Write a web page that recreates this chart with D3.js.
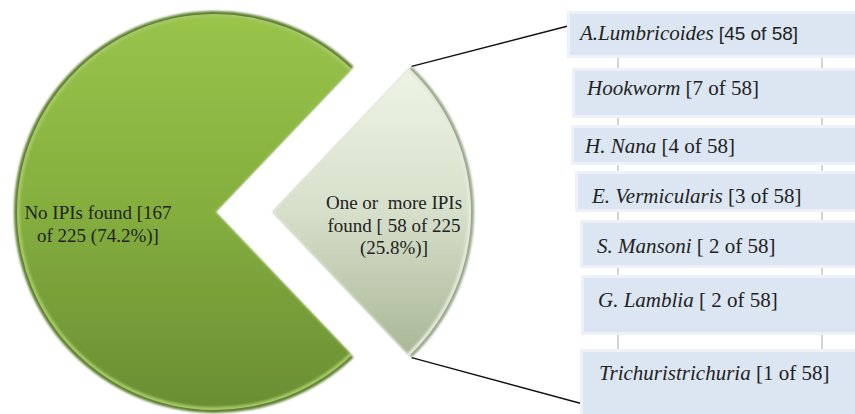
<!DOCTYPE html>
<html>
<head>
<meta charset="utf-8">
<script src="https://cdn.jsdelivr.net/npm/d3@7"></script>
<style>
  html, body { margin: 0; padding: 0; background: #fff; }
  svg { display: block; }
  .serif { font-family: "Liberation Serif", "DejaVu Serif", serif; white-space: pre; }
  .sans { font-family: "Liberation Sans", Arial, sans-serif; }
</style>
</head>
<body>
<svg id="chart" width="855" height="414"></svg>
<script>
// ---- data ----
const categories = ["One or more IPIs found", "No IPIs found"];
const values = [58, 167];
const total = 225;
const pieLabels = [
  ["One or  more IPIs", "found [ 58 of 225", "(25.8%)]"],
  ["No IPIs found [167", "of 225 (74.2%)]"]
];
const parasites = ["A.Lumbricoides", "Hookworm", "H. Nana", "E. Vermicularis", "S. Mansoni", "G. Lamblia", "Trichuristrichuria"];
const parasiteCounts = [45, 7, 4, 3, 2, 2, 1];
const countPrefix = ["", "", "", "", " ", " ", ""];
const positiveTotal = 58;

// ---- layout ----
const W = 855, H = 414;
const cx = 215, cy = 212, R = 201, explode = 58;
const rows = [
  { x: 570, y0: 14,  y1: 55,  tx: 10, ty: 26 },
  { x: 575, y0: 71,  y1: 115, tx: 12, ty: 24 },
  { x: 574, y0: 128, y1: 162, tx: 11, ty: 25 },
  { x: 578, y0: 174, y1: 209, tx: 14, ty: 29 },
  { x: 583, y0: 223, y1: 265, tx: 14, ty: 30 },
  { x: 584, y0: 278, y1: 332, tx: 14, ty: 29 },
  { x: 583, y0: 352, y1: 420, tx: 16, ty: 28 }
];
const connX = [618, 822];

const svg = d3.select("#chart");
const defs = svg.append("defs");

const g1 = defs.append("linearGradient").attr("id", "gMain")
  .attr("x1", 0).attr("y1", 0).attr("x2", 0).attr("y2", 1);
g1.append("stop").attr("offset", "0%").attr("stop-color", "#98c44a");
g1.append("stop").attr("offset", "50%").attr("stop-color", "#84ae3e");
g1.append("stop").attr("offset", "100%").attr("stop-color", "#6a8e33");

const g2 = defs.append("linearGradient").attr("id", "gSlice")
  .attr("x1", 0).attr("y1", 0).attr("x2", 0).attr("y2", 1);
g2.append("stop").attr("offset", "0%").attr("stop-color", "#eef4e4");
g2.append("stop").attr("offset", "50%").attr("stop-color", "#d6dfca");
g2.append("stop").attr("offset", "100%").attr("stop-color", "#aab797");

const blur = defs.append("filter").attr("id", "soft").attr("x", "-10%").attr("y", "-10%").attr("width", "120%").attr("height", "120%");
blur.append("feGaussianBlur").attr("stdDeviation", 1.2);

const span = values[0] / total * 2 * Math.PI;
const pie = d3.pie().sort(null).value(d => d)
  .startAngle(Math.PI / 2 - span / 2)
  .endAngle(Math.PI / 2 - span / 2 + 2 * Math.PI);
const arcs = pie(values);
const arc = d3.arc().innerRadius(0).outerRadius(R);
const arcIn = d3.arc().innerRadius(0).outerRadius(R - 3);
const inner = d3.arc().innerRadius(0).outerRadius(R - 6);

const fills = ["url(#gSlice)", "url(#gMain)"];
const edge = ["#9aa88a", "#5f8030"];
const bevel = ["#f6f9f0", "#b5d873"];

arcs.forEach((a, i) => {
  const mid = (a.startAngle + a.endAngle) / 2;
  const off = i === 0 ? explode : 0;
  const ox = cx + off * Math.sin(mid), oy = cy - off * Math.cos(mid);
  const g = svg.append("g").attr("transform", `translate(${ox},${oy})`);
  g.append("path").attr("d", arc(a)).attr("fill", edge[i]).attr("filter", "url(#soft)");
  g.append("path").attr("d", arcIn(a)).attr("fill", bevel[i]).attr("opacity", 0.8);
  g.append("path").attr("d", inner(a)).attr("fill", fills[i]).attr("filter", "url(#soft)");
  a.ox = ox; a.oy = oy;
});

// labels in pie
const lab0 = svg.append("text").attr("class", "serif").attr("font-size", 19).attr("fill", "#222")
  .attr("text-anchor", "middle");
pieLabels[0].forEach((t, k) => lab0.append("tspan").attr("x", 394).attr("y", 209 + k * 22.5).text(t));
const lab1 = svg.append("text").attr("class", "serif").attr("font-size", 19).attr("fill", "#222")
  .attr("text-anchor", "middle");
pieLabels[1].forEach((t, k) => lab1.append("tspan").attr("x", 98).attr("y", 219 + k * 22.5).text(t));

// connector lines from exploded slice to boxes
const sA = arcs[0];
const p1 = [sA.ox + R * Math.sin(sA.startAngle), sA.oy - R * Math.cos(sA.startAngle)];
const p2 = [sA.ox + R * Math.sin(sA.endAngle), sA.oy - R * Math.cos(sA.endAngle)];
svg.append("line").attr("x1", p1[0]).attr("y1", p1[1]).attr("x2", rows[0].x - 2).attr("y2", 26)
  .attr("stroke", "#111").attr("stroke-width", 1.4);
svg.append("line").attr("x1", p2[0]).attr("y1", p2[1]).attr("x2", rows[6].x).attr("y2", 404)
  .attr("stroke", "#111").attr("stroke-width", 1.4);

// vertical connectors between boxes
for (let i = 0; i < rows.length - 1; i++) {
  connX.forEach(x => {
    svg.append("line").attr("x1", x).attr("x2", x)
      .attr("y1", rows[i].y1).attr("y2", rows[i + 1].y0)
      .attr("stroke", "#d4d4d4").attr("stroke-width", 2);
  });
}

// boxes
const boxes = svg.selectAll("g.box").data(parasites).join("g").attr("class", "box");
boxes.append("rect")
  .attr("x", (d, i) => rows[i].x - 3).attr("y", (d, i) => rows[i].y0 - 3)
  .attr("width", (d, i) => W - rows[i].x + 6).attr("height", (d, i) => rows[i].y1 - rows[i].y0 + 6)
  .attr("fill", "#eef2f8");
boxes.append("rect")
  .attr("x", (d, i) => rows[i].x).attr("y", (d, i) => rows[i].y0)
  .attr("width", (d, i) => W - rows[i].x + 3).attr("height", (d, i) => rows[i].y1 - rows[i].y0)
  .attr("fill", "#dce6f2");
const bt = boxes.append("text").attr("class", "serif")
  .attr("x", (d, i) => rows[i].x + rows[i].tx)
  .attr("y", (d, i) => rows[i].y0 + rows[i].ty)
  .attr("font-size", 21).attr("fill", "#222");
bt.append("tspan").attr("font-style", "italic").text(d => d);
bt.append("tspan")
  .attr("class", (d, i) => i === 0 ? "sans" : "serif")
  .attr("font-size", (d, i) => i === 0 ? 19 : 21)
  .text((d, i) => ` [${countPrefix[i]}${parasiteCounts[i]} of ${positiveTotal}]`);
</script>
</body>
</html>
